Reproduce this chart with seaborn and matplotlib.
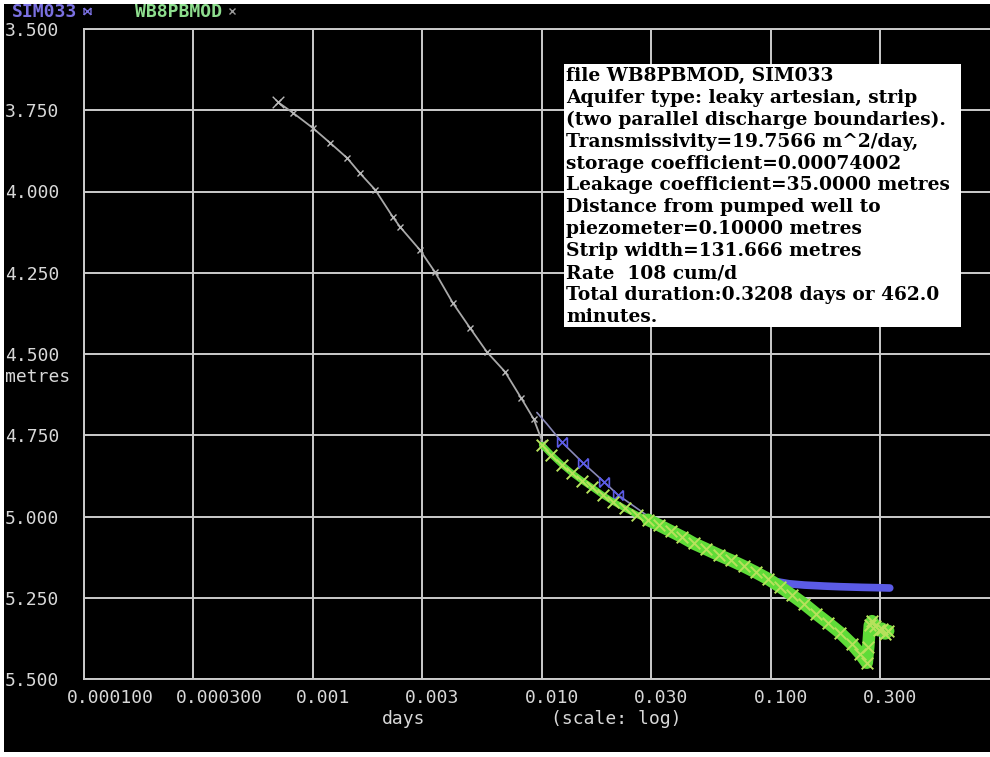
import matplotlib
matplotlib.use("Agg")
import matplotlib.pyplot as plt
import seaborn as sns
from matplotlib.path import Path
from matplotlib.lines import Line2D
from matplotlib.patches import Rectangle
from matplotlib.transforms import ScaledTranslation

# ---------------- data ----------------
x_ticks = [0.0001, 0.0003, 0.001, 0.003, 0.01, 0.03, 0.1, 0.3]
x_tick_labels = ["0.000100", "0.000300", "0.001", "0.003", "0.010", "0.030", "0.100", "0.300"]
y_ticks = [3.5, 3.75, 4.0, 4.25, 4.5, 4.75, 5.0, 5.25, 5.5]
y_tick_labels = ["3.500", "3.750", "4.000", "4.250", "4.500", "4.750", "5.000", "5.250", "5.500"]

# early part of the record (drawn grey)
early_days = [0.000703, 0.000818, 0.00100, 0.00119, 0.00141, 0.00160, 0.00187, 0.00223,
              0.00240, 0.00293, 0.00341, 0.00408, 0.00485, 0.00575, 0.00690, 0.00810,
              0.00920, 0.01010]
early_m = [3.725, 3.758, 3.805, 3.851, 3.897, 3.943, 3.995, 4.078,
           4.109, 4.180, 4.248, 4.343, 4.420, 4.494, 4.555, 4.635,
           4.700, 4.775]

# WB8PBMOD observed drawdown (green)
obs_days = [0.0100, 0.0110, 0.0122, 0.0135, 0.0150, 0.0165, 0.0185, 0.0205, 0.0230,
            0.0260, 0.0290, 0.0325, 0.0365, 0.0410, 0.0460, 0.0520, 0.0590, 0.0670,
            0.0760, 0.0860, 0.0970, 0.1100, 0.1240, 0.1400, 0.1580, 0.1780, 0.2000,
            0.2250, 0.2450, 0.2620, 0.2660, 0.2700, 0.2760, 0.2850, 0.2950, 0.3050,
            0.3150, 0.3250]
obs_m = [4.780, 4.810, 4.840, 4.866, 4.890, 4.910, 4.935, 4.955, 4.975,
         4.995, 5.010, 5.027, 5.045, 5.063, 5.083, 5.100, 5.118, 5.135,
         5.153, 5.172, 5.192, 5.217, 5.243, 5.270, 5.300, 5.328, 5.357,
         5.392, 5.422, 5.450, 5.400, 5.335, 5.322, 5.338, 5.350, 5.345,
         5.360, 5.352]

# SIM033 simulated drawdown (blue)
sim_days = [0.0095, 0.0105, 0.0122, 0.0151, 0.0187, 0.0215, 0.0260, 0.0320, 0.0400,
            0.0500, 0.0620, 0.0750, 0.0900, 0.1050, 0.1200, 0.1400, 0.1700, 0.2000,
            0.2500, 0.2900, 0.3300]
sim_m = [4.680, 4.715, 4.771, 4.835, 4.894, 4.934, 4.975, 5.020, 5.060,
         5.100, 5.135, 5.160, 5.185, 5.200, 5.207, 5.211, 5.214, 5.216,
         5.218, 5.219, 5.220]

series_names = ["SIM033", "WB8PBMOD"]
info_lines = [
    "file WB8PBMOD, SIM033",
    "Aquifer type: leaky artesian, strip",
    "(two parallel discharge boundaries).",
    "Transmissivity=19.7566 m^2/day,",
    "storage coefficient=0.00074002",
    "Leakage coefficient=35.0000 metres",
    "Distance from pumped well to",
    "piezometer=0.10000 metres",
    "Strip width=131.666 metres",
    "Rate  108 cum/d",
    "Total duration:0.3208 days or 462.0",
    "minutes.",
]

# ---------------- style ----------------
sns.set_theme(style="dark")
plt.rcParams["font.family"] = ["DejaVu Sans Mono", "DejaVu Sans"]

W, H = 990, 757
BLUE = "#5b5be6"
BLUE_TXT = "#7a70e0"
GREEN = "#5fdc38"
GREEN_X = "#b6e25c"
GREEN_TXT = "#8ede8e"
GRID = "#cccccc"
TICK = "#d8d8d8"
FS = 13

fig = plt.figure(figsize=(W / 100, H / 100), dpi=100, facecolor="white")
fig.patches.append(Rectangle((4 / W, 5 / H), 1 - 4 / W, (752 - 4) / H,
                             transform=fig.transFigure, facecolor="black",
                             edgecolor="none", zorder=-10))

ax = fig.add_axes([84 / W, (H - 679) / H, (W - 84) / W, 650 / H])
ax.set_facecolor("black")
ax.set_xscale("log")
ax.set_xlim(1e-4, 10 ** (-4 + (W - 84) / 229.0))
ax.set_ylim(5.5, 3.5)

ax.set_xticks(x_ticks)
ax.set_xticklabels(x_tick_labels)
ax.set_yticks(y_ticks)
ax.set_yticklabels(y_tick_labels)
ax.minorticks_off()
ax.grid(True, color=GRID, linewidth=1.4)
for side in ["left", "top", "bottom"]:
    ax.spines[side].set_visible(True)
    ax.spines[side].set_color(GRID)
    ax.spines[side].set_linewidth(1.4)
ax.spines["right"].set_visible(False)

ax.tick_params(axis="both", length=0, colors=TICK, labelsize=FS)
ax.tick_params(axis="y", pad=57)
ax.tick_params(axis="x", pad=7)
for lab in ax.get_yticklabels():
    lab.set_horizontalalignment("left")
off = ScaledTranslation(-17 / 100, 0, fig.dpi_scale_trans)
for lab in ax.get_xticklabels():
    lab.set_horizontalalignment("left")
    lab.set_transform(lab.get_transform() + off)

ax.set_xlabel("days", color=TICK, fontsize=FS)
ax.xaxis.set_label_coords((404 - 84) / (W - 84), (679 - 719) / 650)
ax.xaxis.label.set_verticalalignment("center")
fig.text(616 / W, (H - 719) / H, "(scale: log)", color=TICK, fontsize=FS,
         ha="center", va="center")
ax.set_ylabel("metres", color=TICK, fontsize=FS, rotation=0, ha="left", va="center")
ax.yaxis.set_label_coords((5 - 84) / (W - 84), (679 - 377) / 650)

# ---------------- data marks ----------------
bowtie = Path([(-1, -1), (1, 1), (-1, 1), (1, -1), (-1, -1), (-1, 1), (1, -1), (1, 1)],
              [Path.MOVETO, Path.LINETO] * 4)

# early grey record
sns.lineplot(x=early_days, y=early_m, ax=ax, color="#a9a9a9", linewidth=1.3,
             marker="x", markersize=5, markeredgewidth=1.0, markeredgecolor="#b8b8b8",
             estimator=None, sort=False, zorder=3)
sns.scatterplot(x=early_days[:1], y=early_m[:1], ax=ax, marker="x", s=70,
                color="#b8b8b8", linewidth=1.0, zorder=3)

# SIM033 thin section with markers + thick flat tail
sns.lineplot(x=sim_days, y=sim_m, ax=ax, color="#8a8ab8", linewidth=1.2,
             marker=bowtie, markersize=7, markeredgewidth=1.2, markevery=[2, 3, 4, 5],
             markeredgecolor=BLUE, markerfacecolor="none",
             estimator=None, sort=False, zorder=3)
tail = 13
sns.lineplot(x=sim_days[tail:], y=sim_m[tail:], ax=ax, color=BLUE, linewidth=5.5,
             estimator=None, sort=False, zorder=3.5, solid_capstyle="round")

# WB8PBMOD dense observations: band + cross markers
split = 10
sns.lineplot(x=obs_days[:split + 1], y=obs_m[:split + 1], ax=ax, color=GREEN,
             linewidth=4.5, estimator=None, sort=False, zorder=4, solid_capstyle="round")
sns.lineplot(x=obs_days[split:], y=obs_m[split:], ax=ax, color=GREEN,
             linewidth=9, estimator=None, sort=False, zorder=4, solid_capstyle="round")
sns.scatterplot(x=obs_days, y=obs_m, ax=ax, marker="x", s=70, color=GREEN_X,
                linewidth=1.4, zorder=5)

# ---------------- legend (header) ----------------
handles = [
    Line2D([], [], linestyle="none", marker=bowtie, markersize=5, markeredgewidth=1.0,
           markeredgecolor=BLUE_TXT, markerfacecolor="none"),
    Line2D([], [], linestyle="none", marker="x", markersize=5, markeredgewidth=1.0,
           color="#9a9a9a"),
]
fig.legend(handles, series_names, loc="center left", bbox_to_anchor=(12 / W, 1 - 12 / H),
           ncol=2, markerfirst=False, frameon=False, labelcolor=[BLUE_TXT, GREEN_TXT],
           prop={"family": "DejaVu Sans Mono", "size": FS, "weight": "bold"},
           handlelength=0.5, handletextpad=0.3, columnspacing=2.4,
           borderaxespad=0, borderpad=0)

# ---------------- info box ----------------
fig.patches.append(Rectangle((564 / W, (H - 327) / H), (961 - 564) / W, (327 - 64) / H,
                             transform=fig.transFigure, facecolor="white",
                             edgecolor="none", zorder=2))
for i, line in enumerate(info_lines):
    fig.text(566 / W, 1 - (76 + i * 21.9) / H, line, family="DejaVu Serif",
             weight="bold", size=13.4, color="black", ha="left", va="center", zorder=3)

fig.savefig("out.png", dpi=100, facecolor="white")
